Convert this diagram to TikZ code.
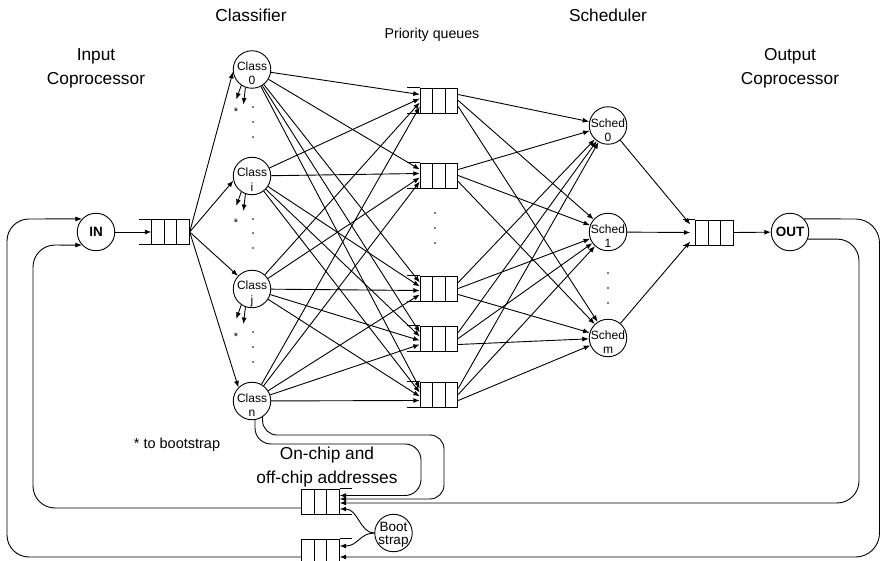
\documentclass[tikz,border=0pt]{standalone}
\usepackage{fontspec}
\setmainfont{Liberation Sans}
\usetikzlibrary{arrows.meta,calc}

% a three-cell FIFO whose open end faces left (#1 name, #2 x, #3 y of the box centre)
\newcommand{\fifoL}[3]{%
  \node[qbox] (#1) at (#2,#3) {};
  \draw ($(#1.north)+(-6.25,0)$) -- ($(#1.south)+(-6.25,0)$);
  \draw ($(#1.north)+(6.25,0)$) -- ($(#1.south)+(6.25,0)$);
  \draw (#1.north west) -- ++(-12.5,0);
  \draw (#1.south west) -- ++(-12.5,0);
}
% the same FIFO, open end facing right
\newcommand{\fifoR}[3]{%
  \node[qbox] (#1) at (#2,#3) {};
  \draw ($(#1.north)+(-6.25,0)$) -- ($(#1.south)+(-6.25,0)$);
  \draw ($(#1.north)+(6.25,0)$) -- ($(#1.south)+(6.25,0)$);
  \draw (#1.north east) -- ++(12.5,0);
  \draw (#1.south east) -- ++(12.5,0);
}

\begin{document}
\begin{tikzpicture}[x=1pt,y=-1pt,line width=0.9pt,
  arr/.style={-{Latex[length=6.5pt,width=5pt]}},
  proc/.style={draw,circle,minimum size=37.5pt,inner sep=0pt},
  qbox/.style={draw,rectangle,minimum width=37.5pt,minimum height=25pt,inner sep=0pt},
  big/.style={font=\fontsize{17.3}{20}\selectfont,anchor=base,inner sep=0pt},
  small/.style={font=\fontsize{12}{14}\selectfont,anchor=base,inner sep=0pt},
  bold/.style={font=\bfseries\fontsize{13.5}{16}\selectfont},
  dot/.style={circle,fill,inner sep=0pt,minimum size=1.8pt,draw=none},
]
\useasboundingbox (0,0) rectangle (881,561);
\clip (0,0) rectangle (881,561);

% headings
\node[big] at (96,61) {Input};
\node[big] at (96,85) {Coprocessor};
\node[big] at (251,22) {Classifier};
\node[font=\fontsize{14.2}{16}\selectfont,anchor=base,inner sep=0pt] at (432,39) {Priority queues};
\node[big] at (608,22) {Scheduler};
\node[big] at (790,61) {Output};
\node[big] at (790,85) {Coprocessor};
\node[big] at (327,459) {On-chip and};
\node[big] at (327,483) {off-chip addresses};
\node[font=\fontsize{14.5}{16}\selectfont,anchor=base,inner sep=0pt] at (177,448) {* to bootstrap};

% processing elements
\node[proc,bold] (in) at (96,232) {IN};
\node[proc,bold] (out) at (790,232) {OUT};
\node[proc] (c0) at (252,69.5) {};
\node[proc] (ci) at (252,176) {};
\node[proc] (cj) at (252,289) {};
\node[proc] (cn) at (252,401) {};
\node[proc] (s0) at (608,125.5) {};
\node[proc] (s1) at (608,232) {};
\node[proc] (sm) at (608,338) {};
\node[proc] (bs) at (393.5,533) {};

\foreach \y/\t in {69.5/0, 176/i, 289/j, 401/n} {
  \node[small] at (252,{\y+1}) {Class};
  \node[small] at (252,{\y+15.5}) {\t};
}
\foreach \y/\t in {125.5/0, 232/1, 338/m} {
  \node[small] at (608,{\y+2}) {Sched};
  \node[small] at (608,{\y+16}) {\t};
}
\node[font=\fontsize{13.5}{15}\selectfont,anchor=base,inner sep=0pt] at (393.5,531.5) {Boot};
\node[font=\fontsize{13.5}{15}\selectfont,anchor=base,inner sep=0pt] at (393.5,544) {strap};

% queues
\fifoL{qi}{170.5}{232}
\fifoL{q1}{439}{100.5}
\fifoL{q2}{439}{175.5}
\fifoL{q3}{439}{288.5}
\fifoL{q4}{439}{338.5}
\fifoL{q5}{439}{394.5}
\fifoL{qo}{714.5}{232.5}
\fifoR{qa}{320.5}{501.5}
\fifoR{qb}{320.5}{551.5}

% ellipses between elided entries
\foreach \y in {213,228,243} \node[dot] at (435,\y) {};
\foreach \y in {273,288,303} \node[dot] at (608,\y) {};

% bootstrap hand-offs under the classifiers
\foreach \c/\y/\s/\da/\db/\dc in {c0/69.5/40.5/37.5/52.5/67.5, ci/176/45/43/57/72, cj/289/46/43/58/73} {
  \draw[arr] (\c.-124) -- ++(-5,14);
  \draw[arr] (\c.-110) -- ++(-2,17);
  \node[small,font=\fontsize{11}{13}\selectfont] at (236,{\y+\s+6}) {*};
  \node[dot] at (253,{\y+\da}) {};
  \node[dot] at (253,{\y+\db}) {};
  \node[dot] at (253,{\y+\dc}) {};
}

% input side
\draw[arr] (in) -- (qi.west);
\foreach \c/\a in {c0/187, ci/194, cj/137, cn/135}
  \draw[arr] (qi.east) -- (\c.\a);

% classifiers to priority queues
\foreach \c/\d in {c0/-6, ci/-2, cj/2, cn/6}
  \foreach \q in {q1,q2,q3,q4,q5}
    \draw[arr] (\c) -- ($(\q.west)+(0,\d)$);

% priority queues to schedulers
\foreach \q in {q1,q2,q3,q4,q5}
  \foreach \s/\d in {s0/-6, s1/0, sm/6}
    \draw[arr] ($(\q.east)+(0,\d)$) -- (\s);

% output side
\draw[arr] (s0) -- ($(qo.west)+(-5,-8)$);
\draw[arr] (s1) -- ($(qo.west)+(-5,0)$);
\draw[arr] (sm) -- ($(qo.west)+(-5,9)$);
\draw[arr] (qo.east) -- (out);

% recirculation loops
\draw[arr,rounded corners=22] ($(qb.west)+(0,5.5)$) -- (7,557) -- (7,219) -- (in.137);
\draw[arr,rounded corners=22] ($(qa.west)+(0,6.5)$) -- (33,508) -- (33,245) -- (in.223);
\draw[arr,rounded corners=24] (out.43) -- (879.5,219) -- (879.5,557) -- ($(qb.east)+(0,5.5)$);
\draw[arr,rounded corners=22] (out.-22) -- (859,239) -- (859,503) -- ($(qa.east)+(0,1.5)$);

% address returns from the last classifier
\draw[arr,rounded corners=16] (cn.-81) -- (255,444) -- (421,444) -- (421,495.5) -- ($(qa.east)+(0,-6)$);
\draw[arr,rounded corners=14] (cn.-57) -- (263,435) -- (444,435) -- (444,499) -- ($(qa.east)+(0,-2.5)$);

% bootstrap feeds
\draw[arr] (bs.west) .. controls (360,533) and (358,509) .. ($(qa.east)+(0,7.5)$);
\draw[arr] (bs.west) .. controls (360,533) and (358,546) .. ($(qb.east)+(0,-5.5)$);
\end{tikzpicture}
\end{document}
